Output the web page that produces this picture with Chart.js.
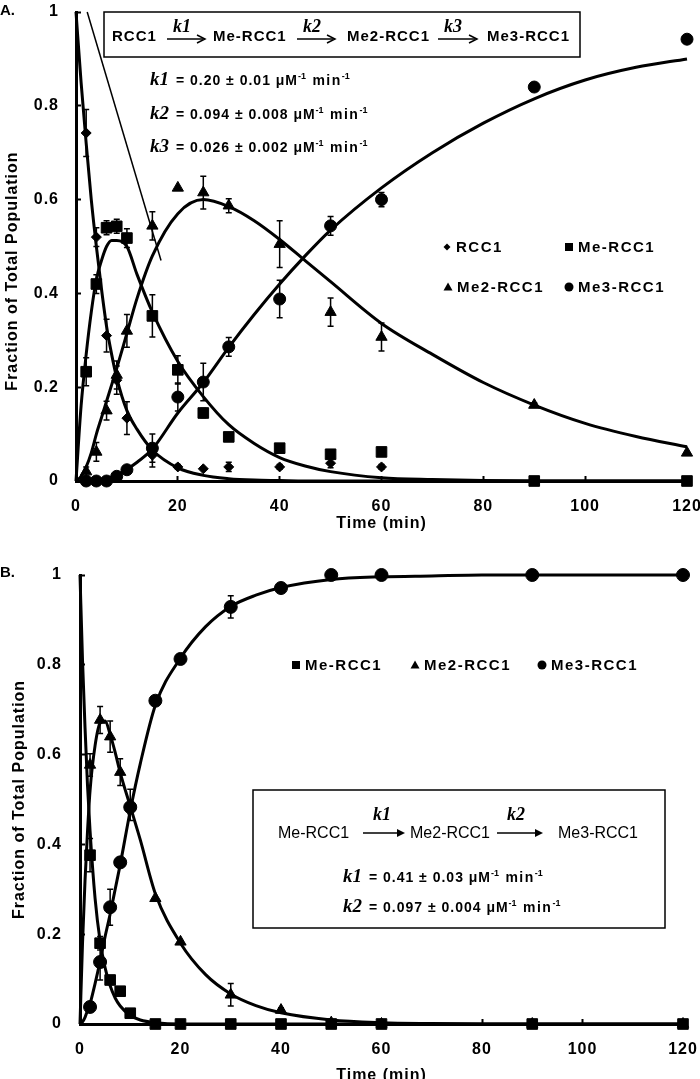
<!DOCTYPE html>
<html>
<head>
<meta charset="utf-8">
<script src="https://cdn.jsdelivr.net/npm/chart.js"></script>
<style>
  html, body { margin: 0; padding: 0; background: #fff; overflow: hidden; }
  canvas { position: absolute; left: 0; }
  #chartA { top: 0; }
  #chartB { top: 535px; }
</style>
</head>
<body>
<canvas id="chartA" width="700" height="535"></canvas>
<canvas id="chartB" width="700" height="544"></canvas>
<script>
// ---- panel A: RCC1 -> Me-RCC1 -> Me2-RCC1 -> Me3-RCC1 ----
const timeA   = [2, 4, 6, 8, 10, 15, 20, 25, 30, 40, 50, 60, 90, 120]
const rcc1A   = [0.742, 0.52, 0.31, 0.215, 0.134, 0.055, 0.03, 0.026, 0.03, 0.03, 0.038, 0.03, 0, 0]
const rcc1ErrA = [0.05, 0.02, 0.035, 0.03, 0.035, 0.025, 0.005, 0, 0.01, 0.005, 0.01, 0.005, 0, 0]
const meA     = [0.233, 0.42, 0.54, 0.543, 0.518, 0.352, 0.237, 0.145, 0.094, 0.07, 0.057, 0.062, 0, 0]
const meErrA  = [0.03, 0.02, 0.015, 0.015, 0.02, 0.045, 0.03, 0.01, 0.005, 0, 0, 0, 0, 0]
const me2A    = [0.02, 0.062, 0.15, 0.226, 0.32, 0.544, 0.625, 0.615, 0.587, 0.505, 0.36, 0.307, 0.162, 0.06]
const me2ErrA = [0.01, 0.02, 0.02, 0.03, 0.035, 0.03, 0, 0.035, 0.015, 0.05, 0.03, 0.03, 0.005, 0]
const me3A    = [0, 0, 0, 0.01, 0.024, 0.07, 0.179, 0.211, 0.286, 0.388, 0.544, 0.6, 0.84, 0.942]
const me3ErrA = [0, 0, 0, 0, 0, 0.03, 0.03, 0.04, 0.02, 0.04, 0.02, 0.015, 0, 0]

// fitted curves
const fitTimeA = [0, 1, 2, 3, 4, 5, 6, 7, 8, 10, 12, 15, 20, 25, 30, 35, 40, 45, 50, 60, 70, 80, 90, 100, 110, 120]
const fitRcc1A = [1, 0.85, 0.72, 0.6, 0.5, 0.41, 0.33, 0.27, 0.22, 0.15, 0.11, 0.066, 0.028, 0.012, 0.005, 0.002, 0.001, 0, 0, 0, 0, 0, 0, 0, 0, 0]
const fitMeA   = [0, 0.16, 0.27, 0.36, 0.43, 0.47, 0.5, 0.513, 0.513, 0.5, 0.44, 0.36, 0.255, 0.18, 0.12, 0.08, 0.05, 0.032, 0.02, 0.007, 0.003, 0.001, 0, 0, 0, 0]
const fitMe2A  = [0, 0.01, 0.03, 0.06, 0.1, 0.135, 0.17, 0.205, 0.24, 0.315, 0.39, 0.48, 0.57, 0.6, 0.585, 0.555, 0.515, 0.47, 0.425, 0.336, 0.27, 0.21, 0.162, 0.123, 0.095, 0.073]
const fitMe3A  = [0, 0, 0, 0, 0.002, 0.003, 0.005, 0.008, 0.012, 0.025, 0.04, 0.068, 0.145, 0.21, 0.285, 0.355, 0.42, 0.48, 0.535, 0.625, 0.7, 0.763, 0.815, 0.855, 0.882, 0.9]
// stray thin line in the original figure
const strayX = [2.2, 16.7]
const strayY = [1, 0.47]

// ---- panel B: Me-RCC1 -> Me2-RCC1 -> Me3-RCC1 ----
const timeB   = [2, 4, 6, 8, 10, 15, 20, 30, 40, 50, 60, 90, 120]
const meB     = [0.376, 0.18, 0.098, 0.073, 0.024, 0, 0, 0, 0, 0, 0, 0, 0]
const meErrB  = [0.037, 0.015, 0, 0, 0, 0, 0, 0, 0, 0, 0, 0, 0]
const me2B    = [0.577, 0.677, 0.64, 0.561, 0.488, 0.28, 0.183, 0.065, 0.031, 0.003, 0, 0, 0]
const me2ErrB = [0.025, 0.03, 0.035, 0.03, 0.035, 0, 0, 0.025, 0.005, 0, 0, 0, 0]
const me3B    = [0.038, 0.138, 0.26, 0.36, 0.483, 0.72, 0.813, 0.929, 0.971, 1, 1, 1, 1]
const me3ErrB = [0.01, 0.04, 0.04, 0.01, 0.015, 0, 0.01, 0.025, 0, 0, 0, 0, 0]

const fitTimeB = [0, 0.5, 1, 1.5, 2, 3, 4, 5, 6, 7, 8, 10, 12, 15, 20, 25, 30, 35, 40, 50, 60, 70, 80, 90, 100, 120]
const fitMeB   = [1, 0.81, 0.66, 0.53, 0.43, 0.28, 0.185, 0.125, 0.085, 0.058, 0.04, 0.019, 0.009, 0.003, 0, 0, 0, 0, 0, 0, 0, 0, 0, 0, 0, 0]
const fitMe2B  = [0, 0.18, 0.32, 0.43, 0.52, 0.62, 0.67, 0.675, 0.645, 0.605, 0.56, 0.485, 0.41, 0.29, 0.18, 0.11, 0.067, 0.041, 0.025, 0.009, 0.003, 0.001, 0, 0, 0, 0]
const fitMe3B  = [0, 0.005, 0.015, 0.03, 0.045, 0.09, 0.14, 0.195, 0.245, 0.3, 0.355, 0.475, 0.58, 0.71, 0.815, 0.885, 0.93, 0.955, 0.972, 0.99, 0.996, 0.998, 1, 1, 1, 1]

const rateNames   = ['k1', 'k2', 'k3']
const ratesA      = ['0.20 ± 0.01', '0.094 ± 0.008', '0.026 ± 0.002']
const ratesB      = ['0.41 ± 0.03', '0.097 ± 0.004']
const schemeA     = ['RCC1', 'Me-RCC1', 'Me2-RCC1', 'Me3-RCC1']
const schemeB     = ['Me-RCC1', 'Me2-RCC1', 'Me3-RCC1']

const SANS = '"Liberation Sans", Arial, sans-serif'
const SERIF = '"Liberation Serif", "Times New Roman", serif'
const boldFont = { family: SANS, size: 16, weight: 'bold' }

function pts(xs, ys) { return xs.map((x, i) => ({ x: x, y: ys[i] })) }

function markers(label, xs, ys, errs, style, radius) {
    return {
        label: label, data: pts(xs, ys), errors: errs,
        showLine: false, pointStyle: style, pointRadius: radius,
        pointBackgroundColor: '#000', pointBorderColor: '#000', pointBorderWidth: 1,
        pointHoverRadius: radius, clip: false
    }
}

function curve(xs, ys, width) {
    return {
        data: pts(xs, ys), showLine: true, pointRadius: 0, pointHoverRadius: 0,
        borderColor: '#000', borderWidth: width || 3,
        cubicInterpolationMode: 'monotone', clip: false
    }
}

// error bars drawn from each dataset's errors array through the chart scales
const errorBars = {
    id: 'errorBars',
    afterDatasetsDraw(chart) {
        const ctx = chart.ctx, sx = chart.scales.x, sy = chart.scales.y
        ctx.save()
        ctx.strokeStyle = '#000'
        ctx.lineWidth = 1.5
        chart.data.datasets.forEach(ds => {
            if (!ds.errors) return
            ds.data.forEach((p, i) => {
                const e = ds.errors[i]
                if (!e) return
                const px = sx.getPixelForValue(p.x)
                const top = sy.getPixelForValue(p.y + e), bot = sy.getPixelForValue(p.y - e)
                ctx.beginPath()
                ctx.moveTo(px, top); ctx.lineTo(px, bot)
                ctx.moveTo(px - 3, top); ctx.lineTo(px + 3, top)
                ctx.moveTo(px - 3, bot); ctx.lineTo(px + 3, bot)
                ctx.stroke()
            })
        })
        ctx.restore()
    }
}

const spacing = {
    id: 'spacing',
    beforeDraw(chart) { chart.ctx.letterSpacing = '1px' }
}

function marker(ctx, style, x, y, r) {
    ctx.beginPath()
    if (style === 'circle') ctx.arc(x, y, r, 0, Math.PI * 2)
    else if (style === 'rect') ctx.rect(x - r, y - r, 2 * r, 2 * r)
    else if (style === 'rectRot') { ctx.moveTo(x, y - r); ctx.lineTo(x + r, y); ctx.lineTo(x, y + r); ctx.lineTo(x - r, y) }
    else { ctx.moveTo(x, y - r); ctx.lineTo(x + r, y + r * 0.75); ctx.lineTo(x - r, y + r * 0.75) }
    ctx.closePath()
    ctx.fill()
}

function legendItem(ctx, style, r, x, y, text) {
    marker(ctx, style, x, y - 5, r)
    ctx.font = 'bold 15px ' + SANS
    ctx.letterSpacing = '1.5px'
    ctx.fillText(text, x + 9, y)
}

function arrow(ctx, x1, x2, y, filled) {
    ctx.beginPath(); ctx.moveTo(x1, y); ctx.lineTo(x2 - 2, y); ctx.stroke()
    ctx.beginPath()
    ctx.moveTo(x2 - 8, y - 4); ctx.lineTo(x2, y); ctx.lineTo(x2 - 8, y + 4)
    if (filled) { ctx.closePath(); ctx.fill() } else ctx.stroke()
}

function rateLine(ctx, x, y, name, value) {
    ctx.letterSpacing = '0px'
    ctx.font = 'italic bold 19px ' + SERIF
    ctx.fillText(name, x, y)
    x += ctx.measureText(name).width + 2
    const parts = [[' = ' + value + ' μM', 14, 0, '1px'], ['-1', 9, 6, '0px'], [' min', 14, 0, '1.5px'], ['-1', 9, 6, '0px']]
    parts.forEach(([t, size, dy, ls]) => {
        ctx.font = 'bold ' + size + 'px ' + SANS
        ctx.letterSpacing = ls
        ctx.fillText(t, x, y - dy)
        x += ctx.measureText(t).width + (size < 10 ? 1 : 0)
    })
}

const notesA = {
    id: 'notesA',
    afterDraw(chart) {
        const ctx = chart.ctx
        ctx.save()
        ctx.fillStyle = '#000'; ctx.strokeStyle = '#000'
        ctx.textBaseline = 'alphabetic'
        ctx.font = 'bold 15px ' + SANS
        ctx.letterSpacing = '0px'
        ctx.fillText('A.', 0, 15)

        // reaction scheme box
        ctx.lineWidth = 1.5
        ctx.strokeRect(104, 12, 476, 45)
        ctx.font = 'bold 15px ' + SANS
        ctx.letterSpacing = '1px'
        const textX = [112, 213, 347, 487]
        schemeA.forEach((t, i) => ctx.fillText(t, textX[i], 41))
        const arrows = [[167, 205], [297, 335], [438, 477]]
        arrows.forEach(([a, b], i) => {
            arrow(ctx, a, b, 39, false)
            ctx.font = 'italic bold 18px ' + SERIF
            ctx.letterSpacing = '0px'
            ctx.fillText(rateNames[i], a + 6, 32)
        })
        ratesA.forEach((v, i) => rateLine(ctx, 150, 85 + i * 33.5, rateNames[i], v))

        legendItem(ctx, 'rectRot', 3.5, 447, 252, 'RCC1')
        legendItem(ctx, 'rect', 4, 569, 252, 'Me-RCC1')
        legendItem(ctx, 'triangle', 4.5, 448, 292, 'Me2-RCC1')
        legendItem(ctx, 'circle', 4.5, 569, 292, 'Me3-RCC1')
        ctx.restore()
    }
}

const notesB = {
    id: 'notesB',
    afterDraw(chart) {
        const ctx = chart.ctx
        ctx.save()
        ctx.fillStyle = '#000'; ctx.strokeStyle = '#000'
        ctx.textBaseline = 'alphabetic'
        ctx.font = 'bold 15px ' + SANS
        ctx.letterSpacing = '0px'
        ctx.fillText('B.', 0, 42)

        legendItem(ctx, 'rect', 4, 296, 135, 'Me-RCC1')
        legendItem(ctx, 'triangle', 4.5, 415, 135, 'Me2-RCC1')
        legendItem(ctx, 'circle', 4.5, 542, 135, 'Me3-RCC1')

        ctx.lineWidth = 1.5
        ctx.strokeRect(253, 255, 412, 138)
        ctx.font = '16px ' + SANS
        ctx.letterSpacing = '0px'
        const textX = [278, 410, 558]
        schemeB.forEach((t, i) => ctx.fillText(t, textX[i], 303))
        const arrows = [[363, 405], [497, 543]]
        arrows.forEach(([a, b], i) => {
            ctx.lineWidth = 1.5
            arrow(ctx, a, b, 298, true)
            ctx.font = 'italic bold 18px ' + SERIF
            ctx.fillText(rateNames[i], a + 10, 285)
        })
        ratesB.forEach((v, i) => rateLine(ctx, 343, 347 + i * 30, rateNames[i], v))
        ctx.restore()
    }
}

function buildScales(yTitle, yWidth, xHeight, yTitlePad, xTitlePad, yTickPad) {
    return {
        x: {
            type: 'linear', min: 0, max: 120,
            ticks: { stepSize: 20, color: '#000', font: boldFont, padding: 21, maxRotation: 0 },
            grid: { drawOnChartArea: false, tickLength: -5, tickWidth: 2, tickColor: '#000' },
            border: { display: true, color: '#000', width: 3 },
            title: { display: true, text: 'Time (min)', color: '#000', font: boldFont, padding: { top: 0, bottom: xTitlePad } },
            afterFit: s => { s.height = xHeight; s.paddingLeft = 0; s.paddingRight = 0 }
        },
        y: {
            min: 0, max: 1,
            ticks: {
                stepSize: 0.2, color: '#000', font: boldFont, padding: yTickPad,
                callback: v => String(Math.round(v * 10) / 10)
            },
            grid: { drawOnChartArea: false, tickLength: -5, tickWidth: 2, tickColor: '#000' },
            border: { display: true, color: '#000', width: 3 },
            title: { display: true, text: yTitle, color: '#000', font: boldFont, padding: { top: yTitlePad, bottom: 0 } },
            afterFit: s => { s.width = yWidth; s.paddingTop = 0; s.paddingBottom = 0 }
        }
    }
}

function getPanelAChart(canvas) {
    return new Chart(canvas, {
        type: 'scatter',
        data: {
            datasets: [
                curve(strayX, strayY, 1.5),
                curve(fitTimeA, fitRcc1A),
                curve(fitTimeA, fitMeA),
                curve(fitTimeA, fitMe2A),
                curve(fitTimeA, fitMe3A),
                markers('RCC1', timeA, rcc1A, rcc1ErrA, 'rectRot', 5),
                markers('Me-RCC1', timeA, meA, meErrA, 'rect', 7.5),
                markers('Me2-RCC1', timeA, me2A, me2ErrA, 'triangle', 6.5),
                markers('Me3-RCC1', timeA, me3A, me3ErrA, 'circle', 6)
            ]
        },
        options: {
            responsive: false,
            animation: false,
            layout: { padding: { left: 0, right: 13, top: 12, bottom: 0 } },
            plugins: { legend: { display: false }, tooltip: { enabled: false } },
            scales: buildScales('Fraction of Total Population         ', 76, 54, 3, 2, 22)
        },
        plugins: [spacing, errorBars, notesA]
    })
}

function getPanelBChart(canvas) {
    return new Chart(canvas, {
        type: 'scatter',
        data: {
            datasets: [
                curve(fitTimeB, fitMeB),
                curve(fitTimeB, fitMe2B),
                curve(fitTimeB, fitMe3B),
                markers('Me-RCC1', timeB, meB, meErrB, 'rect', 7.5),
                markers('Me2-RCC1', timeB, me2B, me2ErrB, 'triangle', 6.5),
                markers('Me3-RCC1', timeB, me3B, me3ErrB, 'circle', 6.5)
            ]
        },
        options: {
            responsive: false,
            animation: false,
            layout: { padding: { left: 0, right: 17, top: 40, bottom: 0 } },
            plugins: { legend: { display: false }, tooltip: { enabled: false } },
            scales: buildScales('Fraction of Total Population', 80, 55, 10, -6, 23)
        },
        plugins: [spacing, errorBars, notesB]
    })
}

getPanelAChart(document.getElementById('chartA'))
getPanelBChart(document.getElementById('chartB'))
</script>
</body>
</html>
